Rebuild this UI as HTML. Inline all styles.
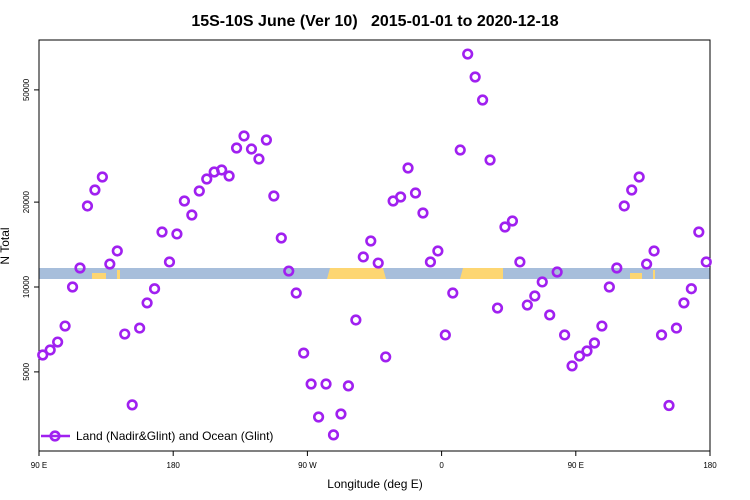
<!DOCTYPE html>
<html><head><meta charset="utf-8"><style>
body{margin:0;background:#fff}
svg{display:block;font-family:"Liberation Sans",sans-serif}
</style></head><body>
<svg id="c" width="750" height="500">
<text x="375" y="26" text-anchor="middle" font-size="16" font-weight="bold">15S-10S June (Ver 10)&#160;&#160;&#160;2015-01-01 to 2020-12-18</text>
<g id="band">
<rect x="39" y="268" width="671" height="11" fill="#a7bedb"/>
<path d="M327 279 L330 268 L383 268 L386 279Z" fill="#fdd672"/>
<path d="M460 279 L463 268 L503 268 L503 279Z" fill="#fdd672"/>
<rect x="92" y="273" width="14" height="6" fill="#fdd672"/>
<rect x="117" y="270" width="3" height="9" fill="#fdd672"/>
<rect x="630" y="273" width="12" height="6" fill="#fdd672"/>
<rect x="653" y="270" width="2" height="9" fill="#fdd672"/>
</g>
<rect x="39" y="40" width="671" height="411" fill="none" stroke="#000" stroke-width="1"/>
<g id="axes"></g>
<g id="pts"></g>
<g>
<line x1="41" y1="436" x2="70" y2="436" stroke="#a020f0" stroke-width="2.5"/>
<circle cx="55" cy="436" r="4.3" fill="none" stroke="#a020f0" stroke-width="2.6"/>
<text x="76" y="440" font-size="12">Land (Nadir&amp;Glint) and Ocean (Glint)</text>
</g>
<text x="375" y="488" text-anchor="middle" font-size="12">Longitude (deg E)</text>
<text transform="translate(9,246) rotate(-90)" text-anchor="middle" font-size="12">N Total</text>
</svg>
<script>
const values=[5740,5980,6380,7270,10000,11680,19380,22080,24550,12060,13420,6810,3820,7150,8780,9860,15670,12270,15420,20180,18000,21900,24150,25570,26000,24750,31110,34320,30850,28440,33210,21020,14920,11390,9520,5830,4530,3460,4530,2990,3545,4460,7640,12780,14560,12160,5650,20180,20850,26420,21540,18300,12270,13420,6760,9520,30600,67000,55550,46040,28210,8420,16320,17140,12270,8630,9290,10420,7960,11300,6760,5250,5690,5930,6330,7270,10000,11680,19380,22080,24550,12060,13420,6760,3800,7150,8780,9860,15670,12270];
const lonStart=92.5, lonStep=5;
const xTickVals=[90,180,270,360,450,540];
const xTickLabels=["90 E","180","90 W","0","90 E","180"];
const yTickVals=[5000,10000,20000,50000];
const yTickLabels=["5000","10000","20000","50000"];
const NS="http://www.w3.org/2000/svg";
function xs(l){return 39+(l-90)*671/450;}
function ys(v){return 287-Math.log10(v/10000)*282;}
const ax=document.getElementById('axes'),pts=document.getElementById('pts');
function mk(t,a,p){const e=document.createElementNS(NS,t);for(const k in a)e.setAttribute(k,a[k]);p.appendChild(e);return e;}
xTickVals.forEach((v,i)=>{const x=xs(v);
 const t=mk('line',{x1:x,x2:x,y1:451,y2:456,stroke:'#000'},ax);
 
 
 const l=mk('text',{x:x,y:468,'text-anchor':'middle','font-size':'8'},ax);l.textContent=xTickLabels[i];
 
 });
yTickVals.forEach((v,i)=>{const y=ys(v);
 const t=mk('line',{x1:34,x2:39,y1:y,y2:y,stroke:'#000'},ax);
 
 
 const l=mk('text',{transform:`translate(29,${y}) rotate(-90)`,'text-anchor':'middle','font-size':'8'},ax);l.textContent=yTickLabels[i];
 
 });
values.forEach((v,i)=>{
 const c=mk('circle',{cx:xs(lonStart+i*lonStep),cy:ys(v),r:4.3,fill:'none',stroke:'#a020f0','stroke-width':2.6},pts);
 
 });
</script>
</body></html>
